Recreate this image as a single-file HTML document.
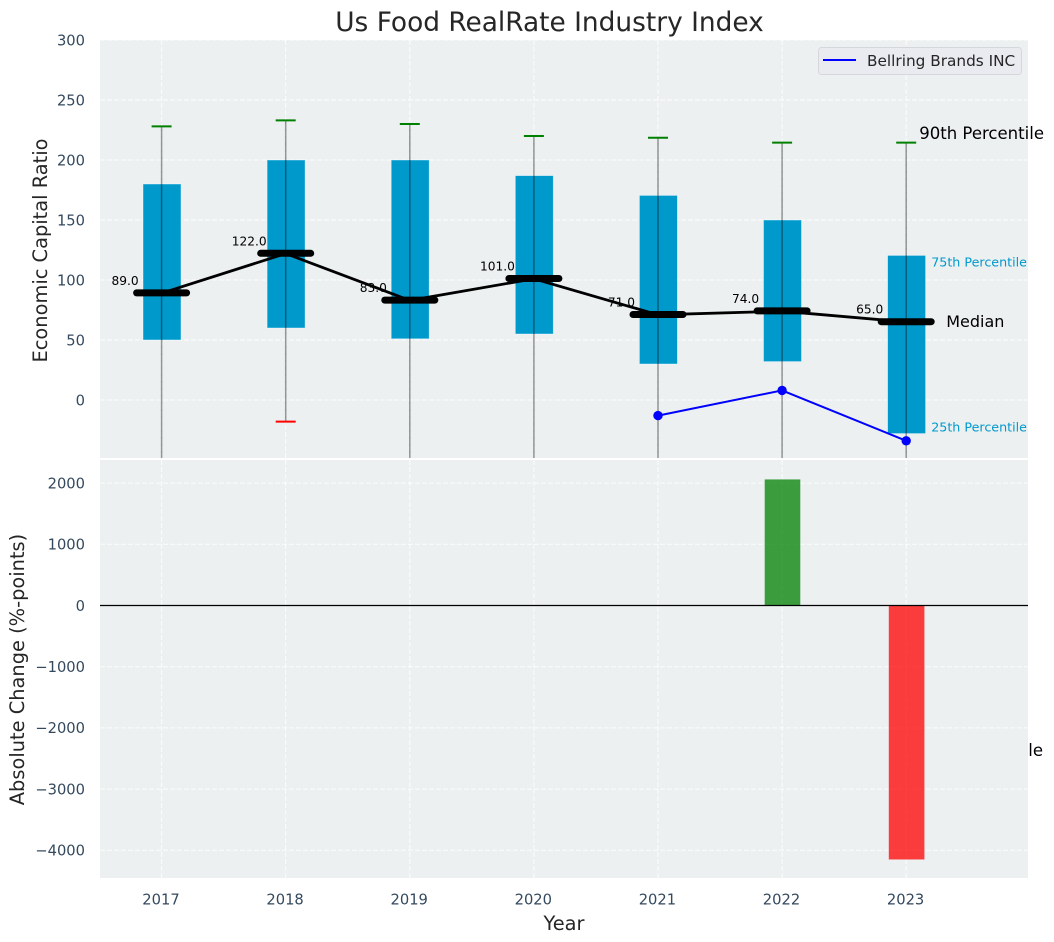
<!DOCTYPE html>
<html lang="en">
<head>
<meta charset="utf-8">
<title>Us Food RealRate Industry Index</title>
<style>
html,body{margin:0;padding:0;background:#fff;}
svg{display:block;font-family:"DejaVu Sans","Liberation Sans",sans-serif;}
</style>
</head>
<body>
<svg id="chart" xmlns="http://www.w3.org/2000/svg" width="1054" height="942" viewBox="0 0 1054 942"></svg>
<script>
const years = [2017, 2018, 2019, 2020, 2021, 2022, 2023];
const p90Values = [228, 233, 230, 220, 218.5, 214.5, 214.5];
const p75Values = [180, 200, 200, 187, 170.5, 150, 120.5];
const medianValues = [89, 122, 83, 101, 71, 74, 65];
const p25Values = [50, 60, 51, 55, 30, 32, -28];
const p10Values = [-120, -18, -110, -100, -150, -200, -292];
const companyValues = [null, null, null, null, -13, 8, -34];
const changeValues = [null, null, null, null, null, 2060, -4150];
const topTicks = [0, 50, 100, 150, 200, 250, 300];
const bottomTicks = [-4000, -3000, -2000, -1000, 0, 1000, 2000];

const plotLeft = 100, plotRight = 1028;
const topPlotTop = 40, topPlotBottom = 458;
const bottomPlotTop = 460, bottomPlotBottom = 878;
const svg = document.getElementById('chart');
const NS = 'http://www.w3.org/2000/svg';

function xScale(i) { return 161.6 + i * 124.1; }
function yTop(v) { return 400 - v * 1.2; }
function yBottom(v) { return 605.5 - v * 0.0612; }
function fmt(v) { return String(v).replace('-', '\u2212'); }

function make(tag, attrs, parent, text) {
  const el = document.createElementNS(NS, tag);
  for (const k in attrs) el.setAttribute(k, attrs[k]);
  if (text !== undefined) el.textContent = text;
  (parent || svg).appendChild(el);
  return el;
}

let el;
const defs = make('defs', {});
const clipT = make('clipPath', {id: 'clip-top'}, defs);
make('rect', {x: plotLeft, y: topPlotTop, width: plotRight - plotLeft, height: topPlotBottom - topPlotTop}, clipT);
const clipB = make('clipPath', {id: 'clip-bottom'}, defs);
make('rect', {x: plotLeft, y: bottomPlotTop, width: plotRight - plotLeft, height: bottomPlotBottom - bottomPlotTop}, clipB);

/* Top panel */
el = make('rect', {x: plotLeft, y: topPlotTop, width: plotRight - plotLeft, height: topPlotBottom - topPlotTop, fill: '#ecf0f1'});



const gridStyle = {stroke: '#ffffff', 'stroke-width': 1, 'stroke-dasharray': '5 2', 'stroke-opacity': 0.85};

topTicks.forEach(function (t) {
  el = make('line', Object.assign({x1: plotLeft, x2: plotRight, y1: yTop(t), y2: yTop(t)}, gridStyle));
  
  
  el = make('text', {x: 85, y: yTop(t) + 5.3, 'text-anchor': 'end', 'font-size': 14.7, fill: '#34495e'}, svg, fmt(t));
  
  
});
years.forEach(function (y, i) {
  el = make('line', Object.assign({x1: xScale(i), x2: xScale(i), y1: topPlotTop, y2: topPlotBottom}, gridStyle));
  
  
});

/* Median value labels, beneath the marks */
years.forEach(function (y, i) {
  el = make('text', {x: xScale(i) - 36.5, y: yTop(medianValues[i]) - 8.3, 'text-anchor': 'middle', 'font-size': 12.2, fill: '#000'}, svg, medianValues[i].toFixed(1));
  
  
});

/* Interquartile boxes */
years.forEach(function (y, i) {
  el = make('rect', {
    x: xScale(i) - 18.6, y: yTop(p75Values[i]), width: 38,
    height: yTop(p25Values[i]) - yTop(p75Values[i]),
    fill: '#0099cc', stroke: '#ffffff', 'stroke-opacity': 0.5, 'stroke-width': 0.8
  });
  
  
});

/* Whiskers and caps */
const whiskerLayer = make('g', {'clip-path': 'url(#clip-top)'});


years.forEach(function (y, i) {
  el = make('line', {x1: xScale(i), x2: xScale(i), y1: yTop(p90Values[i]), y2: yTop(p10Values[i]), stroke: '#000', 'stroke-opacity': 0.4, 'stroke-width': 1.5}, whiskerLayer);
  
  
  el = make('line', {x1: xScale(i) - 10, x2: xScale(i) + 10, y1: yTop(p90Values[i]), y2: yTop(p90Values[i]), stroke: '#008000', 'stroke-width': 2}, whiskerLayer);
  
  
  el = make('line', {x1: xScale(i) - 10, x2: xScale(i) + 10, y1: yTop(p10Values[i]), y2: yTop(p10Values[i]), stroke: '#ff0000', 'stroke-width': 2}, whiskerLayer);
  
  
});

/* Median trend line */
el = make('polyline', {
  points: years.map(function (y, i) { return xScale(i) + ',' + yTop(medianValues[i]); }).join(' '),
  fill: 'none', stroke: '#000', 'stroke-width': 2.8
});



/* Median bars */
years.forEach(function (y, i) {
  el = make('line', {x1: xScale(i) - 25, x2: xScale(i) + 25, y1: yTop(medianValues[i]) - 0.3, y2: yTop(medianValues[i]) - 0.3, stroke: '#000', 'stroke-width': 7, 'stroke-linecap': 'round'});
  
  
});

/* Company series */
const companyIdx = years.map(function (y, i) { return i; }).filter(function (i) { return companyValues[i] !== null; });
el = make('polyline', {
  points: companyIdx.map(function (i) { return xScale(i) + ',' + yTop(companyValues[i]); }).join(' '),
  fill: 'none', stroke: '#0000ff', 'stroke-width': 2
});


companyIdx.forEach(function (i) {
  el = make('circle', {cx: xScale(i), cy: yTop(companyValues[i]), r: 4.7, fill: '#0000ff'});
  
  
});

/* Percentile annotations on the last year */
const lastX = xScale(years.length - 1);
const lastI = years.length - 1;
el = make('text', {x: lastX + 13, y: yTop(p90Values[lastI]) - 3.5, 'font-size': 16.55, fill: '#000'}, svg, '90th Percentile');


el = make('text', {x: lastX + 25, y: yTop(p75Values[lastI]) + 11, 'font-size': 12.7, fill: '#0099cc'}, svg, '75th Percentile');


el = make('text', {x: lastX + 40, y: yTop(medianValues[lastI]) + 5, 'font-size': 16, fill: '#000'}, svg, 'Median');


el = make('text', {x: lastX + 25, y: yTop(p25Values[lastI]) - 2, 'font-size': 12.7, fill: '#0099cc'}, svg, '25th Percentile');


el = make('text', {x: lastX + 12, y: yTop(p10Values[lastI]) + 5.5, 'font-size': 16.55, fill: '#000'}, svg, '10th Percentile');



/* Legend */
el = make('rect', {x: 818.5, y: 47.5, width: 203, height: 27, rx: 3, fill: '#e9ebf1', stroke: '#d5d7dc', 'stroke-width': 1});


el = make('line', {x1: 823, x2: 856, y1: 60, y2: 60, stroke: '#0000ff', 'stroke-width': 2});


el = make('text', {x: 867, y: 66, 'font-size': 15.3, fill: '#262626'}, svg, 'Bellring Brands INC');



/* Bottom panel (covers overflow from the top panel) */
el = make('rect', {x: plotLeft, y: bottomPlotTop, width: plotRight - plotLeft, height: bottomPlotBottom - bottomPlotTop, fill: '#ecf0f1'});



bottomTicks.forEach(function (t) {
  el = make('line', Object.assign({x1: plotLeft, x2: plotRight, y1: yBottom(t), y2: yBottom(t)}, gridStyle));
  
  
  el = make('text', {x: 85, y: yBottom(t) + 5.3, 'text-anchor': 'end', 'font-size': 14.7, fill: '#34495e'}, svg, fmt(t));
  
  
});
years.forEach(function (y, i) {
  el = make('line', Object.assign({x1: xScale(i), x2: xScale(i), y1: bottomPlotTop, y2: bottomPlotBottom}, gridStyle));
  
  
  el = make('text', {x: xScale(i) - 0.6, y: 904.5, 'text-anchor': 'middle', 'font-size': 14.7, fill: '#34495e'}, svg, String(y));
  
  
});

years.forEach(function (y, i) {
  const v = changeValues[i];
  if (v === null) return;
  const a = yBottom(Math.max(v, 0)), b = yBottom(Math.min(v, 0));
  el = make('rect', {
    x: xScale(i) - 17.4, y: a, width: 35.6, height: b - a,
    fill: v >= 0 ? '#008000' : '#ff0000', 'fill-opacity': 0.75
  });
  
  
});

el = make('line', {x1: plotLeft, x2: plotRight, y1: yBottom(0), y2: yBottom(0), stroke: '#000', 'stroke-width': 1.2});



/* Titles */
el = make('text', {x: 549.5, y: 31, 'text-anchor': 'middle', 'font-size': 26.4, fill: '#262626'}, svg, 'Us Food RealRate Industry Index');


el = make('text', {x: 564, y: 930, 'text-anchor': 'middle', 'font-size': 19.4, fill: '#262626'}, svg, 'Year');


el = make('text', {transform: 'translate(47 250.5) rotate(-90)', 'text-anchor': 'middle', 'font-size': 19.4, fill: '#262626'}, svg, 'Economic Capital Ratio');


el = make('text', {transform: 'translate(24 669.5) rotate(-90)', 'text-anchor': 'middle', 'font-size': 19.4, fill: '#262626'}, svg, 'Absolute Change (%-points)');


</script>
</body>
</html>
